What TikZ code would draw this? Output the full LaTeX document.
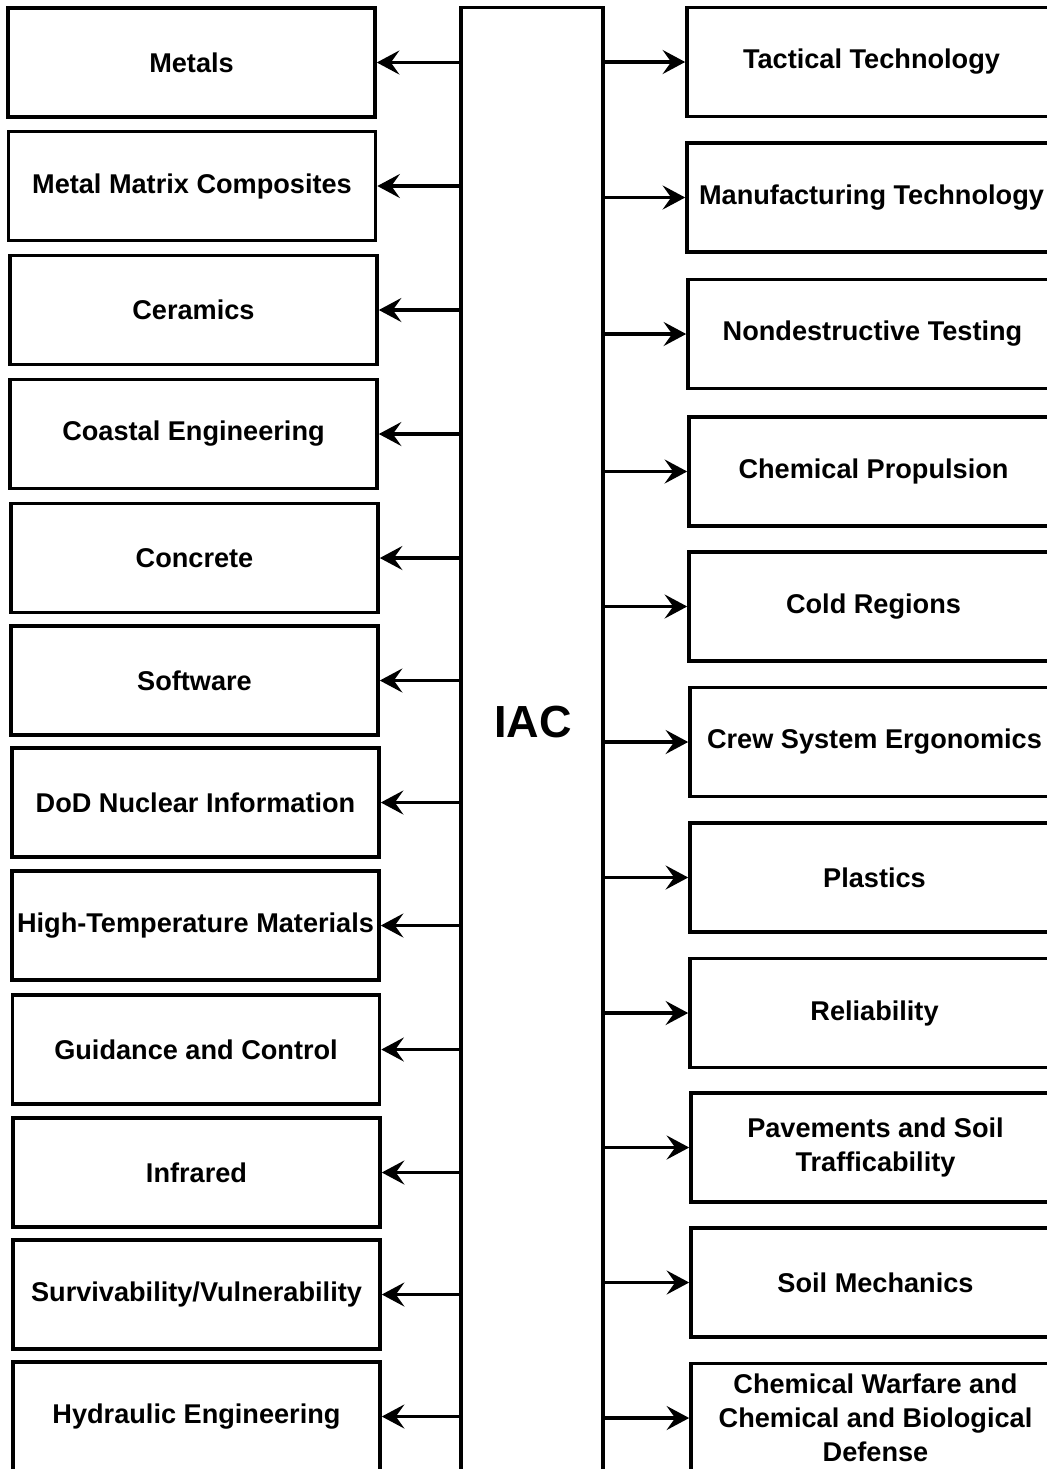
\documentclass[tikz,border=0pt]{standalone}
\usepackage{fontspec}
\setmainfont{Liberation Sans}
\usetikzlibrary{arrows.meta}
\tikzset{
  lbox/.style={draw, line width=2.5pt, minimum width=9.175cm, minimum height=2.725cm, inner sep=0pt, align=center, font=\bfseries\fontsize{19.3pt}{24.3pt}\selectfont},
  rbox/.style={draw, line width=2.5pt, minimum width=9.225cm, minimum height=2.725cm, inner sep=0pt, align=center, font=\bfseries\fontsize{19.3pt}{24.3pt}\selectfont},
  hub/.style={draw, line width=2.2pt, minimum width=3.55cm, minimum height=37.3cm, inner sep=0pt},
  arr/.style={line width=2.6pt, -{Stealth[length=16pt, width=17pt, inset=6pt]}},
}
\begin{document}
\begin{tikzpicture}[x=0.025cm, y=-0.025cm]
\useasboundingbox (0,0) rectangle (1047,1469);
\clip (0,0) rectangle (1047,1469);
\fill[white] (0,0) rectangle (1047,1469);
% hub
\node[hub] (iac) at (532,754) {};
\node[font=\bfseries\fontsize{32pt}{36pt}\selectfont, inner sep=0pt] (iactext) at (533,722) {IAC};
% left boxes
\node[lbox] (L1) at (191.5,62.5) {Metals};
\node[lbox] (L2) at (192,186) {Metal Matrix Composites};
\node[lbox] (L3) at (193.5,310) {Ceramics};
\node[lbox] (L4) at (193.5,434) {Coastal Engineering};
\node[lbox] (L5) at (194.5,558) {Concrete};
\node[lbox] (L6) at (194.5,680.5) {Software};
\node[lbox] (L7) at (195.5,802.5) {DoD Nuclear Information};
\node[lbox] (L8) at (195.5,925.5) {High-Temperature Materials};
\node[lbox] (L9) at (196,1049.5) {Guidance and Control};
\node[lbox] (L10) at (196.5,1172.5) {Infrared};
\node[lbox] (L11) at (196.5,1294.5) {Survivability/Vulnerability};
\node[lbox] (L12) at (196.5,1416.5) {Hydraulic Engineering};
% right boxes
\node[rbox] (R1) at (871.5,62) {Tactical Technology};
\node[rbox] (R2) at (871.5,197.5) {Manufacturing Technology};
\node[rbox] (R3) at (872.5,334) {Nondestructive Testing};
\node[rbox] (R4) at (873.5,471.5) {Chemical Propulsion};
\node[rbox] (R5) at (873.5,606.5) {Cold Regions};
\node[rbox] (R6) at (874.5,742) {Crew System Ergonomics};
\node[rbox] (R7) at (874.5,877.5) {Plastics};
\node[rbox] (R8) at (874.5,1013) {Reliability};
\node[rbox] (R9) at (875.5,1147.5) {Pavements and Soil\\Trafficability};
\node[rbox] (R10) at (875.5,1282.5) {Soil Mechanics};
\node[rbox] (R11) at (875.5,1418) {Chemical Warfare and\\Chemical and Biological\\Defense};
% connectors
\foreach \k in {1,...,12} {
  \draw[arr] (L\k.east -| iac.west) -- (L\k.east);
}
\foreach \k in {1,...,11} {
  \draw[arr] (R\k.west -| iac.east) -- (R\k.west);
}
\end{tikzpicture}
\end{document}
